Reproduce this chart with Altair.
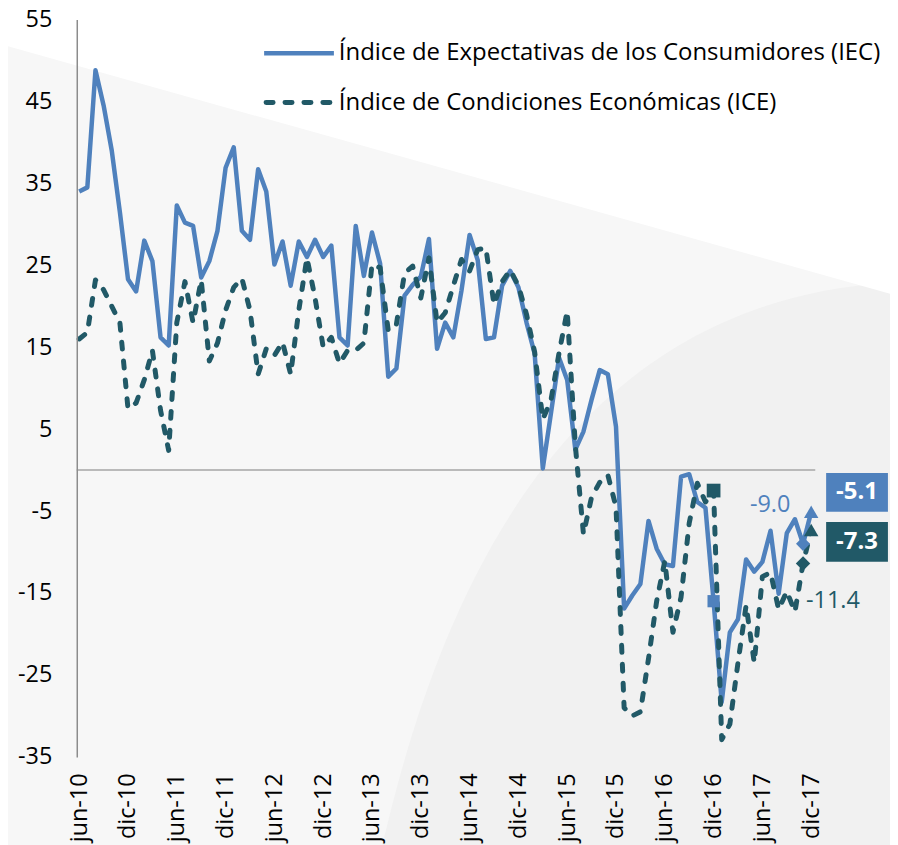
import altair as alt
import pandas as pd

# ---------------- data ----------------
labels_x = ["jun-10", "dic-10", "jun-11", "dic-11", "jun-12", "dic-12", "jun-13", "dic-13",
            "jun-14", "dic-14", "jun-15", "dic-15", "jun-16", "dic-16", "jun-17", "dic-17"]
y_ticks = [-35, -25, -15, -5, 5, 15, 25, 35, 45, 55]
series_names = ["Índice de Expectativas de los Consumidores (IEC)",
                "Índice de Condiciones Económicas (ICE)"]

iec = [34.0, 34.5, 48.8, 44.5, 39.0, 31.5, 23.3, 21.8, 28.0, 25.5,
       16.2, 15.2, 32.3, 30.2, 29.8, 23.5, 25.5, 29.2, 36.9, 39.4,
       29.2, 28.1, 36.7, 34.0, 25.1, 27.9, 22.5, 27.9, 26.0, 28.1,
       26.0, 27.4, 16.2, 15.2, 29.8, 23.7, 29.0, 25.2, 11.4, 12.4,
       21.3, 22.6, 23.6, 28.2, 14.8, 18.0, 16.2, 21.9, 28.7, 25.6,
       16.0, 16.2, 22.5, 24.3, 22.3, 18.0, 14.2, 0.2, 6.9, 13.7,
       11.0, 2.5, 4.7, 8.6, 12.2, 11.7, 5.3, -16.9, -15.3, -13.9,
       -6.2, -9.6, -11.5, -11.7, -0.8, -0.5, -3.9, -4.6, -16.0, -28.3,
       -19.8, -18.2, -10.9, -12.4, -11.2, -7.4, -15.1, -7.7, -6.0, -9.0,
       -5.1]

ice = [16.0, 16.8, 23.2, 22.0, 20.0, 18.0, 7.5, 8.2, 11.0, 14.6,
       7.3, 2.4, 18.0, 23.0, 18.0, 23.2, 13.3, 15.5, 19.5, 22.3,
       23.4, 19.5, 11.7, 14.8, 14.0, 15.6, 11.7, 19.5, 25.9, 21.0,
       15.0, 16.2, 13.0, 14.6, 14.6, 15.5, 25.1, 24.7, 17.0, 17.8,
       24.0, 24.9, 21.0, 25.9, 18.0, 19.2, 22.5, 25.7, 24.3, 26.9,
       27.1, 20.2, 23.0, 24.4, 22.5, 19.0, 14.4, 6.2, 8.5, 14.3,
       19.4, 3.0, -7.8, -3.3, -1.5, -0.6, -4.5, -29.0, -30.0, -29.5,
       -23.0, -16.0, -11.1, -19.8, -15.5, -6.5, -1.6, -3.9, -2.5, -32.9,
       -31.0, -23.5, -16.5, -23.5, -13.0, -12.5, -17.0, -14.8, -17.3, -11.4,
       -7.3]

# ---------------- style ----------------
BLUE = "#4f81bd"
TEAL = "#215967"
FONT = "Open Sans"
FS = 23.5
W, H = 741, 740

n = len(iec)
df_iec = pd.DataFrame({"idx": list(range(n)), "v": iec})
df_ice = pd.DataFrame({"idx": list(range(n)), "v": ice})

xs = alt.Scale(domain=[-0.3, 90.5], nice=False, zero=False)
ys = alt.Scale(domain=[-35, 55], nice=False, zero=False)
label_js = "[" + ",".join("'" + s + "'" for s in labels_x) + "]"

x_axis = alt.Axis(values=list(range(0, 6 * len(labels_x), 6)),
                  labelExpr=label_js + "[round(datum.value/6)]",
                  labelAngle=270, labelAlign="right", labelBaseline="middle",
                  labelFont=FONT, labelFontSize=FS, labelColor="#000000",
                  labelPadding=16, labelFlush=False, labelOverlap=False,
                  domain=False, ticks=False, grid=False, title=None, zindex=1)
y_axis = alt.Axis(values=y_ticks, labelExpr="datum.value + ''",
                  labelFont=FONT, labelFontSize=FS,
                  labelColor="#000000", labelPadding=25,
                  domainColor="#8c8c8c", domainWidth=1.5,
                  ticks=False, grid=False, title=None, zindex=1)
X = alt.X("idx:Q", scale=xs, axis=x_axis)
Y = alt.Y("v:Q", scale=ys, axis=y_axis)

one = pd.DataFrame({"a": [0]})


def deco(path, color):
    # decorative background shape drawn in pixel space from plot origin
    return alt.Chart(one).mark_point(shape=path, size=4, filled=True, fill=color,
                                     color=color, strokeWidth=0, opacity=1).encode(
        x=alt.value(0), y=alt.value(0))


dark_region = deco("M301,852L307,827C353,632 463,282 821,264L833,262L833,852Z", "#f1f1f1")
white_region = deco("M-87,-28L833,-28L833,280L-87,22Z", "#ffffff")

zero_rule = alt.Chart(pd.DataFrame({"v": [0]})).mark_rule(
    color="#a6a6a6", strokeWidth=1.5).encode(y=Y)

line_iec = alt.Chart(df_iec).mark_line(color=BLUE, strokeWidth=4.5,
                                       strokeJoin="round").encode(x=X, y=Y)
line_ice = alt.Chart(df_ice).mark_line(color=TEAL, strokeWidth=5, strokeDash=[7, 12],
                                       strokeCap="round", strokeJoin="round").encode(x=X, y=Y)


def marker(df, rows, shape, size, color):
    return alt.Chart(df.iloc[rows]).mark_point(shape=shape, size=size, filled=True,
                                                color=color, opacity=1).encode(x=X, y=Y)


markers = [
    marker(df_iec, [78], "square", 150, BLUE),
    marker(df_ice, [78], "square", 190, TEAL),
    marker(df_iec, [89], "diamond", 200, BLUE),
    marker(df_ice, [89], "diamond", 210, TEAL),
    marker(df_iec, [90], "triangle-up", 210, BLUE),
    marker(df_ice, [90], "triangle-up", 210, TEAL),
]

last_iec = df_iec.iloc[[n - 1]].assign(t=lambda d: d.v.map(lambda v: f"{v:.1f}"))
last_ice = df_ice.iloc[[n - 1]].assign(t=lambda d: d.v.map(lambda v: f"{v:.1f}"))
prev_iec = df_iec.iloc[[n - 2]].assign(t=lambda d: d.v.map(lambda v: f"{v:.1f}"))
prev_ice = df_ice.iloc[[n - 2]].assign(t=lambda d: d.v.map(lambda v: f"{v:.1f}"))

box_iec = alt.Chart(last_iec).mark_point(shape="M15,-39H77V0H15Z", size=4, filled=True,
                                         color=BLUE, opacity=1, strokeWidth=0).encode(x=X, y=Y)
box_ice = alt.Chart(last_ice).mark_point(shape="M15,-8H77V32H15Z", size=4, filled=True,
                                         color=TEAL, opacity=1, strokeWidth=0).encode(x=X, y=Y)

txt_iec = alt.Chart(last_iec).mark_text(font=FONT, fontSize=24, fontWeight="bold",
                                        color="#ffffff", dx=46, dy=-19.5,
                                        align="center", baseline="middle").encode(x=X, y=Y, text="t:N")
txt_ice = alt.Chart(last_ice).mark_text(font=FONT, fontSize=24, fontWeight="bold",
                                        color="#ffffff", dx=46, dy=12,
                                        align="center", baseline="middle").encode(x=X, y=Y, text="t:N")
txt_prev_iec = alt.Chart(prev_iec).mark_text(font=FONT, fontSize=FS, color=BLUE, dx=-33, dy=-39,
                                             align="center", baseline="middle").encode(x=X, y=Y, text="t:N")
txt_prev_ice = alt.Chart(prev_ice).mark_text(font=FONT, fontSize=FS, color=TEAL, dx=30, dy=38,
                                             align="center", baseline="middle").encode(x=X, y=Y, text="t:N")

# legend (drawn manually in the top-right of the plot)
leg_iec_line = alt.Chart(one).mark_rule(color=BLUE, strokeWidth=4.5).encode(
    x=alt.value(188), x2=alt.value(258), y=alt.value(34))
leg_ice_line = alt.Chart(one).mark_rule(color=TEAL, strokeWidth=5, strokeDash=[7, 12],
                                        strokeCap="round").encode(
    x=alt.value(190), x2=alt.value(258), y=alt.value(83.5))
leg_iec_txt = alt.Chart(one).mark_text(font=FONT, fontSize=24, color="#000000", align="left",
                                       baseline="middle", text=series_names[0]).encode(
    x=alt.value(263), y=alt.value(34))
leg_ice_txt = alt.Chart(one).mark_text(font=FONT, fontSize=24, color="#000000", align="left",
                                       baseline="middle", text=series_names[1]).encode(
    x=alt.value(263), y=alt.value(83.5))

chart = alt.layer(
    dark_region, white_region, zero_rule, line_iec, line_ice, *markers,
    box_iec, box_ice, txt_iec, txt_ice, txt_prev_iec, txt_prev_ice,
    leg_iec_line, leg_ice_line, leg_iec_txt, leg_ice_txt,
).properties(
    width=W, height=H,
    autosize=alt.AutoSizeParams(type="none"),
    padding={"left": 69, "top": 10, "right": 75, "bottom": 90},
).configure(background="#f7f7f7").configure_view(stroke=None)

chart.save("out.html", embed_options={"renderer": "svg", "actions": False})
